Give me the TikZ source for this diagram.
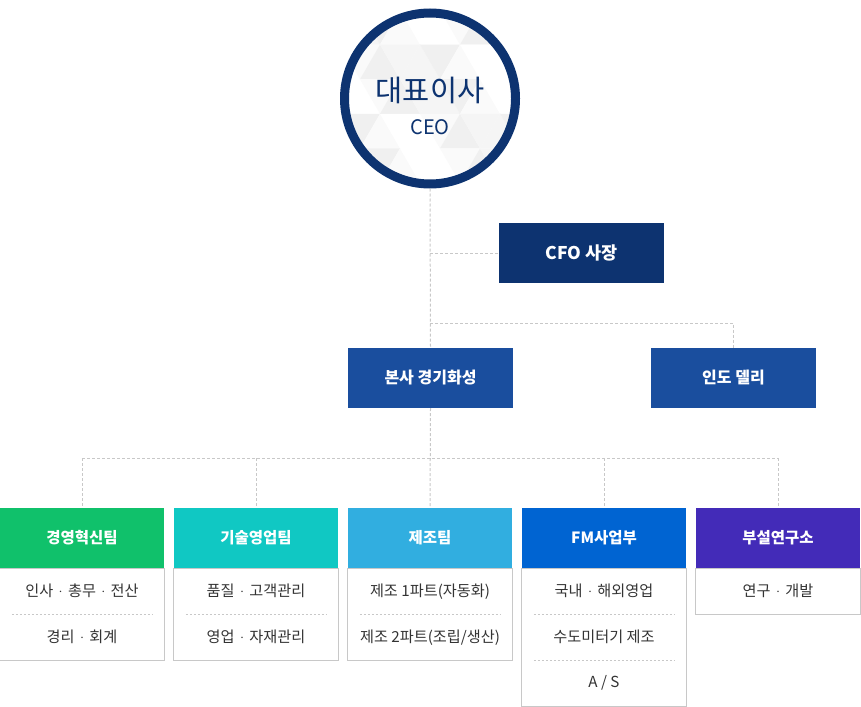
\documentclass[tikz,border=0pt]{standalone}
\usepackage{fontspec}
\setmainfont{Noto Sans CJK KR}
\usetikzlibrary{positioning}
\definecolor{navy}{HTML}{0D3370}
\definecolor{hqblue}{HTML}{1A4E9E}
\definecolor{teamgreen}{HTML}{10C16B}
\definecolor{teamteal}{HTML}{10C8C3}
\definecolor{teamsky}{HTML}{31AEE0}
\definecolor{teamblue}{HTML}{0064D2}
\definecolor{teampurple}{HTML}{432BB8}
\definecolor{linegray}{HTML}{C8C8C8}
\definecolor{bodytext}{HTML}{333333}
\newcommand\mdot{\hspace{0.35em}\raisebox{0.12em}{$\cdot$}\hspace{0.35em}}

\begin{document}
\begin{tikzpicture}[x=1pt,y=-1pt,
    link/.style={draw=linegray,line width=1pt,dash pattern=on 3pt off 2pt},
    office/.style={minimum width=165pt,minimum height=60pt,inner sep=0pt,text=white,
      font=\fontsize{16}{19}\selectfont\bfseries},
    head/.style={minimum width=164pt,minimum height=60pt,inner sep=0pt,text=white,
      font=\fontsize{15.5}{18}\selectfont\bfseries},
    row/.style={minimum width=164pt,minimum height=45.6pt,inner sep=0pt,text=bodytext,
      font=\fontsize{15.2}{18}\selectfont},
    frame/.style={draw=linegray,line width=1pt},
    sep/.style={draw=linegray,line width=0.8pt,dash pattern=on 2pt off 2pt}]
\useasboundingbox (0,0) rectangle (861,706);

% triangles behind the CEO
\begin{scope}
  \clip (430,98.5) circle (82pt);
  \fill[white] (430,98.5) circle (82pt);
  \foreach \j in {0,...,5}{
    \foreach \i in {0,...,6}{
      \pgfmathsetmacro\xo{300+\i*40+mod(\j,2)*20}
      \pgfmathsetmacro\yo{10+\j*34.6}
      \pgfmathtruncatemacro\sa{mod(\i*3+\j*5+7,4)*4}
      \pgfmathtruncatemacro\sb{mod(\i*5+\j*3+2,4)*4}
      \fill[gray!\sa] (\xo,\yo+34.6) -- (\xo+40,\yo+34.6) -- (\xo+20,\yo) -- cycle;
      \fill[gray!\sb] (\xo+20,\yo) -- (\xo+60,\yo) -- (\xo+40,\yo+34.6) -- cycle;
    }
  }
\end{scope}
\node[circle,draw=navy,line width=9pt,minimum size=171pt,inner sep=0pt] (ceo) at (430,98.5) {};
\node[text=navy,font=\fontsize{29.5}{33}\selectfont] (ceoko) at (430,90) {대표이사};
\node[text=navy,font=\fontsize{20}{23}\selectfont] (ceoen) at (430,127) {CEO};

\node[office,fill=navy,font=\fontsize{17.5}{20}\selectfont\bfseries] (cfo) at (581.5,253) {CFO 사장};
\node[office,fill=hqblue] (hq) at (430.5,378) {본사 경기화성};
\node[office,fill=hqblue] (india) at (733.5,378) {인도 델리};

\node[head,fill=teamgreen] (team1) at (82,538) {경영혁신팀};
\node[head,fill=teamteal] (team2) at (256,538) {기술영업팀};
\node[head,fill=teamsky] (team3) at (430,538) {제조팀};
\node[head,fill=teamblue] (team4) at (604,538) {FM사업부};
\node[head,fill=teampurple] (team5) at (778,538) {부설연구소};

\node[row,below=0pt of team1] (team1a) {인사\mdot 총무\mdot 전산};
\node[row,below=0pt of team1a] (team1b) {경리\mdot 회계};
\node[row,below=0pt of team2] (team2a) {품질\mdot 고객관리};
\node[row,below=0pt of team2a] (team2b) {영업\mdot 자재관리};
\node[row,below=0pt of team3] (team3a) {제조 1파트(자동화)};
\node[row,below=0pt of team3a] (team3b) {제조 2파트(조립/생산)};
\node[row,below=0pt of team4] (team4a) {국내\mdot 해외영업};
\node[row,below=0pt of team4a] (team4b) {수도미터기 제조};
\node[row,below=0pt of team4b] (team4c) {A / S};
\node[row,below=0pt of team5] (team5a) {연구\mdot 개발};

\draw[frame] (team1a.north west) rectangle (team1b.south east);
\draw[frame] (team2a.north west) rectangle (team2b.south east);
\draw[frame] (team3a.north west) rectangle (team3b.south east);
\draw[frame] (team4a.north west) rectangle (team4c.south east);
\draw[frame] (team5a.north west) rectangle (team5a.south east);
\foreach \r in {team1a,team2a,team3a,team4a,team4b}
  \draw[sep] ([xshift=12pt]\r.south west) -- ([xshift=-12pt]\r.south east);

\coordinate (split1) at (430,323);
\coordinate (split2) at (430,458);
\draw[link] (ceo.south) -- (hq.north);
\draw[link] (ceo.south |- cfo.west) -- (cfo.west);
\draw[link] (split1) -| (india.north);
\draw[link] (hq.south) -- (team3.north);
\draw[link] (team1.north |- split2) -- (team5.north |- split2);
\foreach \t in {team1,team2,team4,team5}
  \draw[link] (\t.north |- split2) -- (\t.north);
\end{tikzpicture}
\end{document}
